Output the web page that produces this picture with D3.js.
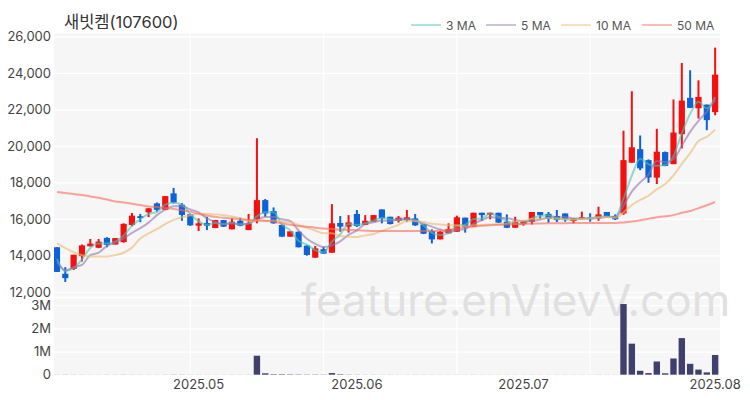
<!DOCTYPE html>
<html>
<head>
<meta charset="utf-8">
<script src="https://cdn.jsdelivr.net/npm/d3@7"></script>
<style>
  html, body { margin: 0; padding: 0; background: #fff; }
  svg { display: block; }
  text { font-family: Inter, "Noto Sans CJK KR", sans-serif; }
</style>
</head>
<body>
<div id="chart"></div>
<script>
const title = "새빗켐(107600)"
const watermark = "feature.enVievV.com"

const opens = [14450,13000,13270,13960,14500,14420,14960,14600,14730,15670,16150,16360,16850,16500,17400,16780,16260,15630,15780,15500,
  15940,15430,15900,15390,15980,17030,16430,15670,15030,15300,14540,13880,14340,14150,15780,15580,16270,15680,15850,16520,
  16120,15890,15940,16030,15700,15340,14880,15210,15300,16070,15580,16340,16230,16340,15850,15520,15720,15850,16380,16280,
  16160,16300,15890,16020,16090,16030,16380,16160,16300,19080,19820,19220,18260,19660,19000,20640,22630,22060,22260,21850]
const closes = [13100,12760,14040,14550,14650,14760,14580,14950,15730,16180,16050,16580,16500,17250,16900,16220,15650,15760,15630,15940,
  15580,15850,15630,15760,17030,16300,15760,15030,15320,14450,14030,14390,14100,15760,15580,15810,15610,15900,16210,16030,
  15720,16070,16090,15650,15190,14880,15300,15450,16090,15540,16340,16210,16340,15800,15520,15850,15890,16380,16210,16000,
  15940,15980,16030,16090,16020,16250,16120,15980,19220,19920,18770,18270,19680,18900,20730,22480,22080,22680,21410,23900]
const highs = [14450,13360,14040,14600,14900,14900,15000,14950,15760,16330,16270,16600,16900,17250,17700,16870,16290,16030,16120,15950,
  15950,16030,16070,16270,20420,17090,16630,15700,15320,15320,14560,14520,14480,16810,16160,16210,16490,16210,16210,16520,
  16120,16160,16490,16270,15700,15430,15340,15760,16180,16070,16340,16340,16340,16340,16250,16120,15900,16380,16380,16380,
  16490,16300,16030,16400,16310,16670,16380,16250,20830,22990,20570,19260,20935,19690,22540,24540,24140,23590,22260,25380]
const lows = [13100,12550,13200,13670,14500,14400,14450,14600,14700,15600,15820,16100,16400,16500,16850,15900,15620,15340,15390,15500,
  15560,15430,15600,15390,15760,16120,15740,15020,15030,14440,13990,13880,14090,14150,15300,15250,15560,15660,15850,15760,
  15700,15800,15850,15620,15170,14660,14880,15210,15300,15250,15580,15900,15980,15780,15500,15520,15630,15700,15980,15800,
  15830,15850,15760,16020,15850,15900,16110,15940,16220,19080,18670,17980,17910,18890,19000,19860,22070,21500,20860,21680]
const volumes = [4000,6000,5000,4000,3000,3000,5000,4000,6000,5000,4000,3000,3000,5000,7000,6000,5000,4000,3000,3000,
  3000,4000,3000,5000,820000,60000,20000,20000,15000,12000,10000,10000,8000,70000,20000,8000,6000,5000,5000,4000,
  4000,3000,3000,4000,4000,3000,3000,3000,4000,3000,4000,3000,3000,3000,3000,3000,3000,4000,3000,3000,
  3000,3000,3000,3000,3000,4000,3000,3000,3050000,1340000,170000,70000,570000,60000,700000,1580000,470000,220000,100000,850000]

const ma3 = [13800,13150,13300,13780,14410,14650,14660,14760,15090,15620,15990,16270,16380,16780,16880,16790,16260,15880,15680,15780,
  15720,15790,15690,15750,16140,16360,16360,15700,15370,14800,14600,14290,14170,14750,15150,15720,15670,15770,15910,16050,
  15990,15940,15960,15940,15640,15240,15120,15210,15610,15690,15990,16030,16300,16120,15890,15720,15750,16040,16160,16200,
  16050,15970,15980,16030,16050,16120,16130,16120,17110,18370,19300,18990,18910,18950,19440,20700,21760,22410,22060,22660]
const ma5 = [13640,13180,13360,13490,14020,14150,14520,14700,14930,15240,15500,15800,16210,16510,16690,16690,16520,16360,16030,15840,
  15710,15750,15710,15750,15970,16110,16100,15980,15890,15370,14920,14640,14460,14550,14770,15130,15370,15730,15820,15910,
  15890,15990,16020,15910,15740,15580,15420,15290,15380,15450,15740,15930,16100,16050,16040,15940,15880,15890,15970,16070,
  16080,16100,16030,16010,16010,16070,16110,16090,16720,17500,18000,18430,19170,19110,19270,20010,20770,21370,21880,22510]
const ma10 = [14670,14400,14180,14010,13950,13950,13950,14020,14150,14430,14930,15210,15450,15720,15950,16090,16200,16280,16270,16250,
  16200,16130,16040,15890,15910,15910,15920,15850,15820,15670,15520,15370,15220,15220,15070,15020,15010,15100,15180,15340,
  15510,15680,15880,15870,15830,15740,15700,15660,15650,15600,15660,15670,15700,15710,15750,15840,15900,16000,16010,16050,
  16010,15990,15960,15990,16040,16080,16100,16060,16360,16760,17040,17270,17630,17910,18380,19010,19600,20270,20490,20890]
const ma50 = [17470,17420,17360,17310,17230,17160,17060,16960,16900,16830,16760,16680,16650,16600,16550,16480,16400,16280,16180,16120,
  16060,16020,15980,15950,15920,15890,15850,15760,15680,15620,15570,15520,15480,15450,15420,15400,15380,15360,15340,15340,
  15340,15340,15340,15340,15340,15330,15350,15400,15470,15530,15590,15630,15660,15680,15690,15710,15720,15740,15750,15760,
  15770,15770,15780,15780,15780,15780,15780,15780,15800,15860,15930,16010,16090,16150,16210,16340,16430,16590,16750,16930]

const priceTicks = [12000,14000,16000,18000,20000,22000,24000,26000]
const volumeTicks = [0,1000000,2000000,3000000]
const volumeLabels = ["0","1M","2M","3M"]
const monthLabels = ["2025.05","2025.06","2025.07","2025.08"]
const monthIndexes = [17,36,56,79]
const gridIndexes = [16,32,48,64]
const maNames = ["3 MA","5 MA","10 MA","50 MA"]
const maColors = ["#4ac4b0","#9076b0","#ebba6d","#fb6956"]
const maSeries = [ma3,ma5,ma10,ma50]
const legendX = [411,486,561,642]

const width = 750
const height = 400
const days = d3.range(closes.length)

const svg = d3.select("#chart").append("svg")
  .attr("width", width)
  .attr("height", height)

const xScale = d3.scaleBand().domain(days).range([52.8, 719.3])
const center = i => xScale(i) + xScale.bandwidth() / 2
const yPrice = d3.scaleLinear().domain([12000, 26000]).range([292, 36.3])
const yVolume = d3.scaleLinear().domain([0, 3000000]).range([374.7, 305.2])

svg.append("clipPath").attr("id", "plotClip")
  .append("rect")
  .attr("x", 54).attr("y", 33).attr("width", 666).attr("height", 344)

const panels = [[33.5, 296.5], [298.5, 375.5]]
svg.selectAll(".panel")
  .data(panels)
  .enter()
  .append("rect")
  .classed("panel", true)
  .attr("x", 54)
  .attr("width", 666)
  .attr("y", d => d[0])
  .attr("height", d => d[1] - d[0])
  .attr("fill", "#f6f6f7")

const styleAxis = g => {
  g.select(".domain").remove()
  g.selectAll("line").attr("stroke", "#fff").attr("stroke-width", 1.2)
  g.selectAll("text").attr("fill", "#444").attr("font-size", 13)
}

svg.append("g")
  .attr("transform", "translate(54,0)")
  .call(d3.axisLeft(yPrice).tickValues(priceTicks).tickFormat(d3.format(",")).tickSize(-666).tickPadding(3))
  .call(styleAxis)

svg.append("g")
  .attr("transform", "translate(54,0)")
  .call(d3.axisLeft(yVolume).tickValues(volumeTicks).tickFormat((d, i) => volumeLabels[i]).tickSize(-666).tickPadding(3))
  .call(styleAxis)

svg.selectAll(".vgrid")
  .data(gridIndexes)
  .enter()
  .append("line")
  .classed("vgrid", true)
  .attr("x1", d => center(d))
  .attr("x2", d => center(d))
  .attr("y1", 33.5)
  .attr("y2", 375.5)
  .attr("stroke", "#fff")
  .attr("stroke-width", 1.2)

const xAxis = svg.append("g")
  .attr("transform", "translate(0,376)")
  .call(d3.axisBottom(xScale).tickValues(monthIndexes).tickFormat((d, i) => monthLabels[i]).tickSize(0).tickPadding(4))
xAxis.select(".domain").remove()
xAxis.selectAll("text").attr("fill", "#444").attr("font-size", 13)

svg.append("text")
  .attr("x", 301)
  .attr("y", 316)
  .attr("font-size", 44)
  .attr("fill", "#e0e0e0")
  .text(watermark)

const plot = svg.append("g").attr("clip-path", "url(#plotClip)")

plot.selectAll(".vol")
  .data(days)
  .enter()
  .append("rect")
  .classed("vol", true)
  .attr("x", i => center(i) - 3.2)
  .attr("width", 6.4)
  .attr("y", i => yVolume(volumes[i]))
  .attr("height", i => yVolume(0) - yVolume(volumes[i]))
  .attr("fill", "#40406e")

const candleColor = i => closes[i] >= opens[i] ? "#f50f0f" : "#0d62d8"

plot.selectAll(".wick")
  .data(days)
  .enter()
  .append("line")
  .classed("wick", true)
  .attr("x1", i => center(i))
  .attr("x2", i => center(i))
  .attr("y1", i => yPrice(highs[i]))
  .attr("y2", i => yPrice(lows[i]))
  .attr("stroke", candleColor)
  .attr("stroke-width", 2)

plot.selectAll(".body")
  .data(days)
  .enter()
  .append("rect")
  .classed("body", true)
  .attr("x", i => center(i) - 3.1)
  .attr("width", 6.2)
  .attr("y", i => yPrice(Math.max(opens[i], closes[i])))
  .attr("height", i => Math.abs(yPrice(opens[i]) - yPrice(closes[i])))
  .attr("fill", candleColor)

const maLine = d3.line()
  .x((d, i) => center(i))
  .y(d => yPrice(d))
  .curve(d3.curveMonotoneX)

plot.selectAll(".ma")
  .data(maSeries)
  .enter()
  .append("path")
  .classed("ma", true)
  .attr("d", d => maLine(d))
  .attr("fill", "none")
  .attr("stroke", (d, i) => maColors[i])
  .attr("stroke-width", 2)
  .attr("opacity", 0.6)

svg.append("text")
  .attr("x", 64)
  .attr("y", 28)
  .attr("font-size", 16.5)
  .attr("fill", "#333")
  .text(title)

const legend = svg.selectAll(".legend")
  .data(maNames)
  .enter()
  .append("g")
  .classed("legend", true)
  .attr("transform", (d, i) => `translate(${legendX[i]},25)`)

legend.append("line")
  .attr("x2", 30)
  .attr("stroke", (d, i) => maColors[i])
  .attr("stroke-width", 1.5)
  .attr("opacity", 0.6)

legend.append("text")
  .attr("x", 35)
  .attr("y", 4.5)
  .attr("font-size", 12)
  .attr("fill", "#555")
  .text(d => d)
</script>
</body>
</html>
